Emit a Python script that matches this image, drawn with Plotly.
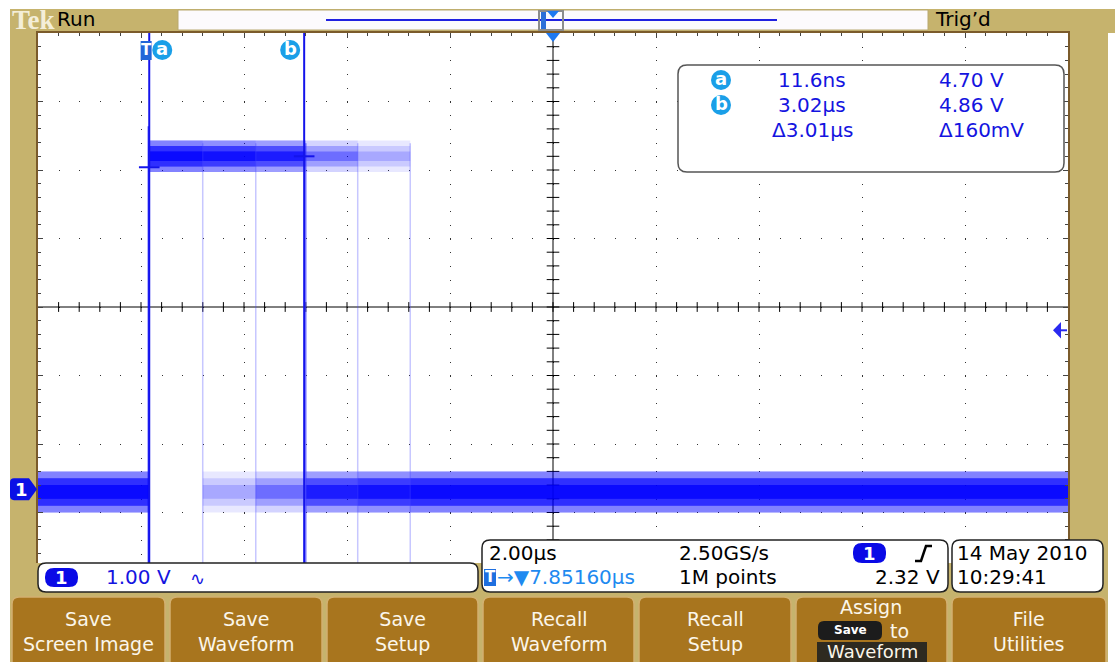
import numpy as np
import plotly.graph_objects as go

FIG_W, FIG_H = 1115, 662
GL, GR, GT, GB = 38, 1068, 33, 581      # graticule box (pixels)
FONT = "DejaVu Sans"

horiz_pos_us = 7.8516          # time at screen centre
time_per_div_us = 2.0
volts_per_div = 1.0
ground_offset_div = 2.66       # ch1 ground below screen centre
n_hdiv, n_vdiv = 10, 8

# persistence display: several overlaid acquisitions, each a pulse that
# rises at the trigger (t=0) and falls at one of these times
pulse_end_us = [1.05, 2.08, 3.05, 3.05, 3.05, 4.06, 5.08]
low_level_v = -0.04
high_level_v = 4.86
low_noise_v = [0.30, 0.20, 0.10]     # half-widths of noise envelope (outer -> core)
high_noise_v = [0.23, 0.15, 0.07]
fall_span_v = [-1.12, 5.05]
rise_span_v = [-1.12, 5.30]

cursor_names = ["a", "b"]
cursor_t_us = [0.0116, 3.02]
cursor_v = [4.70, 4.86]
cursor_tick_half_us = 0.2
readout_time = ["11.6ns", "3.02µs", "Δ3.01µs"]
readout_volt = ["4.70 V", "4.86 V", "Δ160mV"]
trigger_level_v = 2.32
trigger_t_us = 0.0

ch1_scale_label = "1.00 V"
timebase_label = "2.00µs"
sample_rate_label = "2.50GS/s"
record_label = "1M points"
trig_level_label = "2.32 V"
hpos_label = "→▼7.85160µs"
date_label = "14 May 2010"
clock_label = "10:29:41"
button_labels = ["Save<br>Screen Image", "Save<br>Waveform", "Save<br>Setup",
                 "Recall<br>Waveform", "Recall<br>Setup", "", "File<br>Utilities"]

# ---------------- colours ----------------
TAN = "#C6B36D"
BRONZE = "#A8751E"
TRACE = "0,0,255"
CURSOR = "rgb(20,20,235)"
TXTBLUE = "#1414E0"
CYAN = "#1A9FE8"

# ---------------- axes ranges ----------------
t0 = horiz_pos_us - n_hdiv / 2 * time_per_div_us
t1 = horiz_pos_us + n_hdiv / 2 * time_per_div_us
v_c = ground_offset_div * volts_per_div
v0 = v_c - n_vdiv / 2 * volts_per_div
v1 = v_c + n_vdiv / 2 * volts_per_div


def X(px):
    return (px - GL) / (GR - GL)


def Y(py):
    return (GB - py) / (GB - GT)


fig = go.Figure()

# centre crosshair with minor ticks
fig.add_trace(go.Scatter(x=[t0, t1, None, horiz_pos_us, horiz_pos_us],
                         y=[v_c, v_c, None, v0, v1], mode="lines",
                         line=dict(color="black", width=1), hoverinfo="skip"))
mt = np.arange(1, n_hdiv * 5) * time_per_div_us / 5 + t0
mv = np.arange(1, n_vdiv * 5) * volts_per_div / 5 + v0
fig.add_trace(go.Scatter(x=mt, y=np.full(mt.shape, v_c), mode="markers",
                         marker=dict(symbol="line-ns", size=7, line=dict(width=1, color="black")),
                         hoverinfo="skip"))
fig.add_trace(go.Scatter(x=np.full(mv.shape, horiz_pos_us), y=mv, mode="markers",
                         marker=dict(symbol="line-ew", size=9, line=dict(width=1, color="black")),
                         hoverinfo="skip"))


def band_xy(segments):
    xs, ys = [], []
    for a, b, c, h in segments:
        xs += [a, b, b, a, a, None]
        ys += [c - h, c - h, c + h, c + h, c - h, None]
    return xs, ys


layer_alpha = [0.09, 0.13, 0.17]
for e in pulse_end_us:
    for k in range(3):
        segs = [(t0, trigger_t_us, low_level_v, low_noise_v[k]),
                (trigger_t_us, e, high_level_v, high_noise_v[k]),
                (e, t1, low_level_v, low_noise_v[k])]
        xs, ys = band_xy(segs)
        fig.add_trace(go.Scatter(x=xs, y=ys, mode="lines", fill="toself",
                                 fillcolor=f"rgba({TRACE},{layer_alpha[k]})",
                                 line=dict(width=0), hoverinfo="skip"))
# edges
for e in pulse_end_us:
    fig.add_trace(go.Scatter(x=[e, e], y=fall_span_v, mode="lines",
                             line=dict(color="rgba(70,70,255,0.30)", width=1.5), hoverinfo="skip"))
fig.add_trace(go.Scatter(x=[trigger_t_us, trigger_t_us], y=rise_span_v, mode="lines",
                         line=dict(color=f"rgba({TRACE},0.8)", width=2), hoverinfo="skip"))

# cursors
for ct, cv in zip(cursor_t_us, cursor_v):
    fig.add_trace(go.Scatter(x=[ct, ct], y=[v0, v1], mode="lines",
                             line=dict(color=CURSOR, width=2), hoverinfo="skip"))
    fig.add_trace(go.Scatter(x=[ct - cursor_tick_half_us, ct + cursor_tick_half_us], y=[cv, cv],
                             mode="lines", line=dict(color=CURSOR, width=2), hoverinfo="skip"))

shapes = []
annos = []


def rrect_path(x0, y0, x1, y1, r):
    return (f"M{X(x0 + r)},{Y(y0)} L{X(x1 - r)},{Y(y0)} Q{X(x1)},{Y(y0)} {X(x1)},{Y(y0 + r)} "
            f"L{X(x1)},{Y(y1 - r)} Q{X(x1)},{Y(y1)} {X(x1 - r)},{Y(y1)} "
            f"L{X(x0 + r)},{Y(y1)} Q{X(x0)},{Y(y1)} {X(x0)},{Y(y1 - r)} "
            f"L{X(x0)},{Y(y0 + r)} Q{X(x0)},{Y(y0)} {X(x0 + r)},{Y(y0)} Z")


def add_rrect(x0, y0, x1, y1, r, fill, line="rgba(0,0,0,0)", lw=0):
    shapes.append(dict(type="path", xref="paper", yref="paper", path=rrect_path(x0, y0, x1, y1, r),
                       fillcolor=fill, line=dict(color=line, width=lw), layer="above"))


def add_rect(x0, y0, x1, y1, fill, line=None, lw=0):
    shapes.append(dict(type="rect", xref="paper", yref="paper", x0=X(x0), x1=X(x1), y0=Y(y1), y1=Y(y0),
                       fillcolor=fill, line=dict(color=line or fill, width=lw), layer="above"))


def add_poly(pts, fill, line=None, lw=0):
    p = "M" + " L".join(f"{X(a)},{Y(b)}" for a, b in pts) + " Z"
    shapes.append(dict(type="path", xref="paper", yref="paper", path=p, fillcolor=fill,
                       line=dict(color=line or fill, width=lw), layer="above"))


def add_line(x0, y0, x1, y1, color, lw):
    shapes.append(dict(type="line", xref="paper", yref="paper", x0=X(x0), y0=Y(y0), x1=X(x1), y1=Y(y1),
                       line=dict(color=color, width=lw), layer="above"))


def add_text(s, px, py, size=20, color="black", xanchor="center", family=FONT, weight="normal"):
    annos.append(dict(text=s, xref="paper", yref="paper", x=X(px), y=Y(py), xanchor=xanchor,
                      yanchor="middle", showarrow=False,
                      font=dict(family=family, size=size, color=color, weight=weight)))


# white outer margins of the screenshot
add_rect(0, 0, 10, 662, "white")
add_rect(0, 0, 1115, 9, "white")
add_rect(1108, 33, 1115, 662, "white")
# tan strip at bottom behind boxes
add_rect(10, 563, 1108, 597, TAN)

# top bar
add_text("Tek", 10, 20, size=27, color="#F4EED8", xanchor="left", family="Liberation Serif", weight="bold")
add_text("Run", 55, 19, size=20, xanchor="left")
add_text("Trig’d", 933, 19, size=20, xanchor="left")
add_rect(178, 10, 928, 30, "#FCFAFD", line="#B8A870", lw=1)
add_line(326, 20, 777, 20, "#2020E0", 2)
add_rect(541, 12, 546, 30, "#2D6FD8")
add_rect(539, 11, 563, 30, "rgba(0,0,0,0)", line="#8C8C8C", lw=2)
add_poly([(547, 11), (559, 11), (553, 18)], "#1E78F0")
# horizontal position marker on graticule top
add_poly([(546, 33), (560, 33), (553, 42)], "#1E78F0")

# cursor readout box
add_rrect(678, 65, 1064, 172, 9, "white", line="#555555", lw=1.5)
for i, nm in enumerate(cursor_names):
    cy = 80 + 25 * i
    shapes.append(dict(type="circle", xref="paper", yref="paper", x0=X(711), x1=X(731),
                       y0=Y(cy + 10), y1=Y(cy - 10), fillcolor=CYAN, line=dict(width=0), layer="above"))
    add_text(nm, 721, cy - 1, size=18, color="white", weight="bold")
for i in range(3):
    cy = 80 + 25 * i
    add_text(readout_time[i], 812, cy, size=20, color=TXTBLUE)
    add_text(readout_volt[i], 937, cy, size=20, color=TXTBLUE, xanchor="left")

# cursor labels at top of graticule
label_off = [13, -14]
for ct, nm, off in zip(cursor_t_us, cursor_names, label_off):
    shapes.append(dict(type="circle", xref="x", xsizemode="pixel", xanchor=ct, x0=off - 10, x1=off + 10,
                       yref="paper", y0=Y(60), y1=Y(40), fillcolor=CYAN, line=dict(width=0), layer="above"))
    annos.append(dict(text=nm, xref="x", x=ct, xshift=off, yref="paper", y=Y(49), showarrow=False,
                      xanchor="center", yanchor="middle",
                      font=dict(family=FONT, size=18, color="white", weight="bold")))
shapes.append(dict(type="rect", xref="x", xsizemode="pixel", xanchor=trigger_t_us, x0=-8, x1=3,
                   yref="paper", y0=Y(60), y1=Y(41), fillcolor="#2166D8", line=dict(width=0), layer="above"))
annos.append(dict(text="T", xref="x", x=trigger_t_us, xshift=-2.5, yref="paper", y=Y(50), showarrow=False,
                  xanchor="center", yanchor="middle",
                  font=dict(family=FONT, size=15, color="white", weight="bold")))

# channel 1 ground marker (left) and trigger level arrow (right)
g = 0.0
shapes.append(dict(type="path", xref="paper", yref="y",
                   path=f"M{X(14)},{g + 0.16} L{X(29)},{g + 0.16} L{X(37)},{g} L{X(29)},{g - 0.16} "
                        f"L{X(14)},{g - 0.16} Q{X(10)},{g - 0.16} {X(10)},{g - 0.1} L{X(10)},{g + 0.1} "
                        f"Q{X(10)},{g + 0.16} {X(14)},{g + 0.16} Z",
                   fillcolor="#0A10E6", line=dict(width=0), layer="above"))
annos.append(dict(text="1", xref="paper", x=X(21), yref="y", y=g, showarrow=False, xanchor="center",
                  yanchor="middle", font=dict(family=FONT, size=18, color="white", weight="bold")))
tl = trigger_level_v
shapes.append(dict(type="path", xref="paper", yref="y",
                   path=f"M{X(1053)},{tl} L{X(1061)},{tl + 0.12} L{X(1061)},{tl - 0.12} Z",
                   fillcolor="#2A2AF0", line=dict(width=0), layer="above"))
shapes.append(dict(type="line", xref="paper", yref="y", x0=X(1060), x1=X(1067), y0=tl, y1=tl,
                   line=dict(color="#2A2AF0", width=2), layer="above"))

# channel box
add_rrect(38, 563, 478, 592, 8, "white", line="#222222", lw=1.5)
add_rrect(45, 568, 78, 587, 9, "#0A0AE6")
add_text("1", 61, 577, size=18, color="white", weight="bold")
add_text(ch1_scale_label, 104, 577, size=20, color=TXTBLUE, xanchor="left")
add_text("∿", 188, 578, size=18, color=TXTBLUE, xanchor="left")

# timebase / trigger box
add_rrect(482, 540, 948, 592, 8, "white", line="#222222", lw=1.5)
add_text(timebase_label, 487, 553, size=20, xanchor="left")
add_text(sample_rate_label, 677, 553, size=20, xanchor="left")
add_rrect(853, 543, 886, 563, 9, "#0A0AE6")
add_text("1", 869, 553, size=18, color="white", weight="bold")
shapes.append(dict(type="path", xref="paper", yref="paper",
                   path=f"M{X(915)},{Y(561)} L{X(921)},{Y(561)} L{X(926)},{Y(546)} L{X(932)},{Y(546)}",
                   line=dict(color="black", width=2.5), layer="above"))
add_rect(484, 569, 496, 586, "#1E6FE0")
add_text("T", 490, 577, size=15, color="white", weight="bold")
add_text(hpos_label, 495, 577, size=20, color="#1E8AF0", xanchor="left")
add_text(record_label, 677, 577, size=20, xanchor="left")
add_text(trig_level_label, 942, 577, size=20, xanchor="right")

# date box
add_rrect(952, 540, 1103, 592, 8, "white", line="#222222", lw=1.5)
add_text(date_label, 955, 553, size=20, xanchor="left")
add_text(clock_label, 955, 577, size=20, xanchor="left")

# soft buttons
btn_x = [(12, 165), (170, 322), (327, 478), (483, 634), (639, 791), (796, 947), (952, 1106)]
for (bx0, bx1), lab in zip(btn_x, button_labels):
    add_rrect(bx0, 597, bx1, 680, 7, BRONZE, line="#D2B070", lw=1.5)
    if lab:
        add_text(lab, (bx0 + bx1) / 2, 631, size=19, color="#FBF6EA")
# "Assign Save to Waveform" button
add_text("Assign", 871, 607, size=19, color="#FBF6EA")
add_rrect(818, 621, 882, 640, 6, "#1C1C1C")
add_text("Save", 850, 630, size=12, color="white", weight="bold")
add_text("to", 899, 631, size=19, color="#FBF6EA")
add_rect(817, 642, 927, 662, "#2E2A20")
add_text("Waveform", 872, 651, size=18, color="#FBF6EA")

fig.update_layout(
    width=FIG_W, height=FIG_H, autosize=False,
    margin=dict(l=GL, r=FIG_W - GR, t=GT, b=FIG_H - GB, pad=0),
    paper_bgcolor=TAN, plot_bgcolor="white",
    showlegend=False, shapes=shapes, annotations=annos,
    xaxis=dict(range=[t0, t1], tick0=horiz_pos_us, dtick=time_per_div_us, showgrid=True,
               gridcolor="#333333", gridwidth=1, griddash="1px,12.7px", zeroline=False,
               showline=True, linecolor="#7B5B2B", linewidth=2, mirror="ticks",
               ticks="inside", ticklen=5, tickcolor="#444444", tickwidth=1, showticklabels=False,
               minor=dict(ticks="inside", ticklen=3, dtick=time_per_div_us / 5, tick0=horiz_pos_us,
                          tickcolor="#444444", showgrid=False),
               fixedrange=True),
    yaxis=dict(range=[v0, v1], tick0=v_c, dtick=volts_per_div, showgrid=True,
               gridcolor="#333333", gridwidth=1, griddash="1px,19.6px", zeroline=False,
               showline=True, linecolor="#7B5B2B", linewidth=2, mirror="ticks",
               ticks="inside", ticklen=5, tickcolor="#444444", tickwidth=1, showticklabels=False,
               minor=dict(ticks="inside", ticklen=3, dtick=volts_per_div / 5, tick0=v_c,
                          tickcolor="#444444", showgrid=False),
               fixedrange=True),
)

fig.write_html("out.html", config={"displayModeBar": False, "staticPlot": True},
               post_script="document.body.style.margin='0';document.body.style.overflow='hidden';")
